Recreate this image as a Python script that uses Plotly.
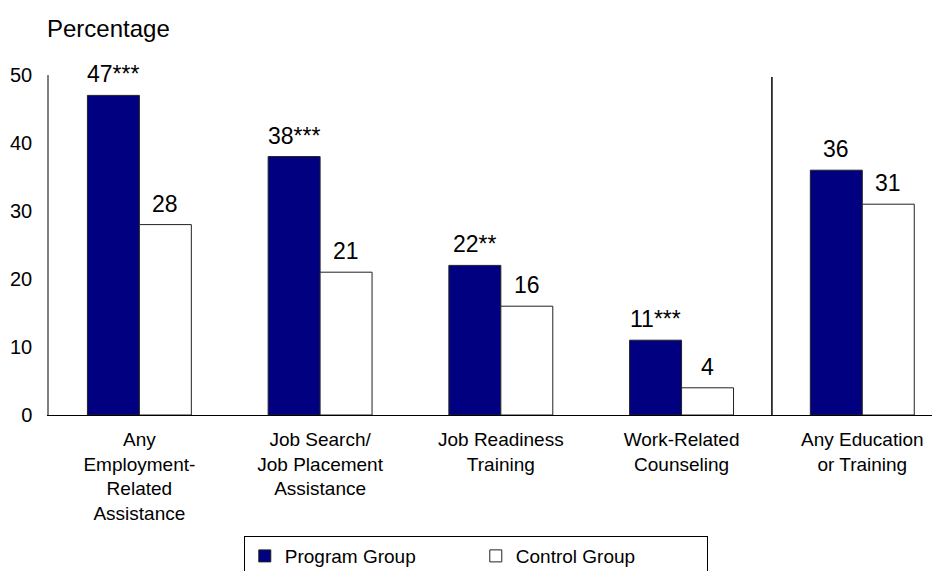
import plotly.graph_objects as go

categories = [
    "Any<br>Employment-<br>Related<br>Assistance",
    "Job Search/<br>Job Placement<br>Assistance",
    "Job Readiness<br>Training",
    "Work-Related<br>Counseling",
    "Any Education<br>or Training",
]
program_values = [47, 38, 22, 11, 36]
program_stars = ["***", "***", "**", "***", ""]
control_values = [28, 21, 16, 4, 31]
y_ticks = [0, 10, 20, 30, 40, 50]

FONT = "Liberation Sans, Arial, sans-serif"

program_text = [f"{v}{s}" for v, s in zip(program_values, program_stars)]
control_text = [f"{v}" for v in control_values]

fig = go.Figure()
fig.add_trace(go.Bar(
    x=categories, y=program_values, name="Program Group",
    marker=dict(color="#000080", line=dict(color="#222222", width=1)),
))
fig.add_trace(go.Bar(
    x=categories, y=control_values, name="Control Group",
    marker=dict(color="white", line=dict(color="#222222", width=1)),
))

annotations = []
for cat, v, t in zip(categories, program_values, program_text):
    annotations.append(dict(
        x=cat, y=v, xref="x", yref="y", text=t, showarrow=False,
        xanchor="center", yanchor="bottom", xshift=-26, yshift=6,
        font=dict(size=23, family=FONT, color="black"),
    ))
for cat, v, t in zip(categories, control_values, control_text):
    annotations.append(dict(
        x=cat, y=v, xref="x", yref="y", text=t, showarrow=False,
        xanchor="center", yanchor="bottom", xshift=26, yshift=6,
        font=dict(size=23, family=FONT, color="black"),
    ))
annotations.append(dict(
    text="Percentage", xref="paper", yref="paper", x=-0.005, y=1.138,
    xanchor="left", yanchor="middle", showarrow=False,
    font=dict(size=24, family=FONT, color="black"),
))

fig.add_shape(type="line", xref="x", yref="y", x0=3.5, x1=3.5, y0=-0.3, y1=49.7,
              line=dict(color="black", width=1.5))

fig.update_layout(
    width=940, height=571,
    margin=dict(l=41, r=8, t=67, b=164, autoexpand=False),
    paper_bgcolor="white", plot_bgcolor="white",
    barmode="group", bargap=0.425, bargroupgap=0,
    font=dict(family=FONT, size=19, color="black"),
    showlegend=True,
    legend=dict(
        orientation="h", x=0.479, xanchor="center", y=-0.356, yanchor="top",
        bordercolor="black", borderwidth=1, bgcolor="white",
        font=dict(size=19, family=FONT), entrywidth=186, traceorder="normal",
    ),
    annotations=annotations,
)
fig.update_xaxes(
    range=[-0.5, 4.43], showline=True, linecolor="black", linewidth=1,
    showgrid=False, ticks="", tickfont=dict(size=19), ticklabelstandoff=7,
)
fig.update_yaxes(
    range=[0, 50], tickvals=y_ticks, showline=True, linecolor="#808080", linewidth=1.5,
    showgrid=False, zeroline=False, ticks="", tickfont=dict(size=20), ticklabelstandoff=11,
)

fig.write_html("out.html")
